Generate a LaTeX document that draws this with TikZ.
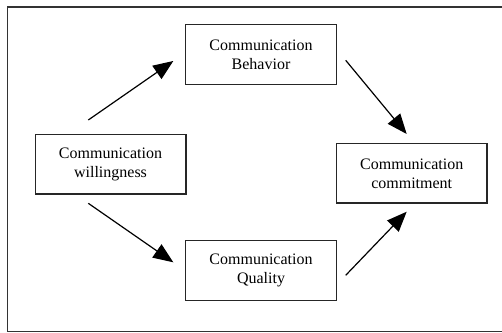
\documentclass[tikz,border=0pt]{standalone}
\usepackage{fontspec}
\setmainfont{Liberation Serif}
\usetikzlibrary{arrows.meta}
\begin{document}
\begin{tikzpicture}[x=1pt,y=-1pt,
  box/.style={draw=black!85,line width=1.4pt,minimum width=150.6pt,minimum height=59.6pt,
    inner sep=0pt,align=center,font=\fontsize{16}{19}\selectfont},
  conn/.style={line width=1.2pt,-{Triangle[length=20pt,width=16pt]}}]
\useasboundingbox (0,0) rectangle (502,332);
\fill[white] (0,0) rectangle (502,332);
\draw[black!80,line width=1.4pt] (520,6.8) -- (7.2,6.8) -- (7.2,331.2) -- (520,331.2);
\node[box] (beh) at (261,54.5) {Communication\\Behavior};
\node[box] (wil) at (110.5,164) {Communication\\willingness};
\node[box] (com) at (411.7,173.3) {Communication\\commitment};
\node[box] (qua) at (261,270.5) {Communication\\Quality};
\coordinate (a1s) at (88.3,120);
\coordinate (a1e) at (173.3,61);
\coordinate (a2s) at (345.7,60.3);
\coordinate (a2e) at (406.7,134);
\coordinate (a3s) at (88.3,203.3);
\coordinate (a3e) at (173.3,262.3);
\coordinate (a4s) at (345.7,275.3);
\coordinate (a4e) at (406.7,211.7);
\draw[conn] (a1s) -- (a1e);
\draw[conn] (a2s) -- (a2e);
\draw[conn] (a3s) -- (a3e);
\draw[conn] (a4s) -- (a4e);
\end{tikzpicture}
\end{document}
